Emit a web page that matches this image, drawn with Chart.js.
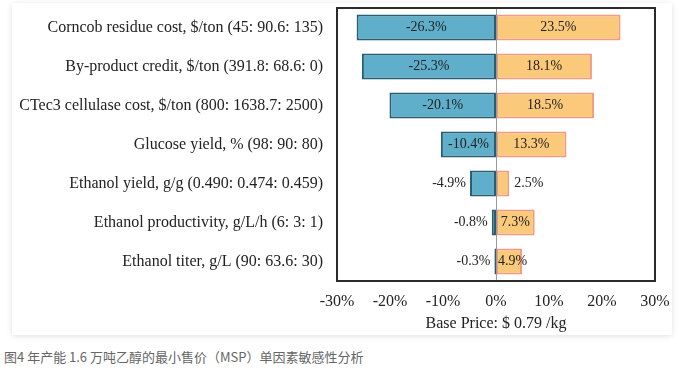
<!DOCTYPE html>
<html>
<head>
<meta charset="utf-8">
<script src="https://cdn.jsdelivr.net/npm/chart.js@4.4.1/dist/chart.umd.min.js"></script>
<style>
  html, body { margin: 0; padding: 0; background: #fff; }
  body { width: 679px; height: 375px; position: relative; overflow: hidden; }
  .card {
    position: absolute; left: 12px; top: 3px; width: 660px; height: 332px;
    background: #fff; box-shadow: 0 1px 6px rgba(0,0,0,.12);
  }
  .card canvas { display: block; }
  .caption {
    position: absolute; left: 4px; top: 347px;
    font: 13px "Noto Sans CJK SC", "Noto Sans", sans-serif; color: #666;
  }
</style>
</head>
<body>
<div class="card"><canvas id="chart" width="660" height="332"></canvas></div>
<div class="caption">图4 年产能 1.6 万吨乙醇的最小售价（MSP）单因素敏感性分析</div>
<script>
// ── Datos ─────────────────────────────────────────────
const factors = [
  'Corncob residue cost, $/ton (45: 90.6: 135)',
  'By-product credit, $/ton (391.8: 68.6: 0)',
  'CTec3 cellulase cost, $/ton (800: 1638.7: 2500)',
  'Glucose yield, % (98: 90: 80)',
  'Ethanol yield, g/g (0.490: 0.474: 0.459)',
  'Ethanol productivity, g/L/h (6: 3: 1)',
  'Ethanol titer, g/L (90: 63.6: 30)'
];
const lowCase  = [-26.3, -25.3, -20.1, -10.4, -4.9, -0.8, -0.3];
const highCase = [23.5, 18.1, 18.5, 13.3, 2.5, 7.3, 4.9];
const xTicks   = [-30, -20, -10, 0, 10, 20, 30];
const xTitle   = 'Base Price: $ 0.79 /kg';

const serif = '"Liberation Serif", "Times New Roman", serif';

// ── Marco, línea cero y etiquetas ─────────────────────
const tornadoDeco = {
  id: 'tornadoDeco',
  afterDatasetsDraw(chart) {
    const { ctx, chartArea: a, scales: { x } } = chart;
    ctx.save();
    // línea cero
    const x0 = Math.round(x.getPixelForValue(0)) + 0.5;
    ctx.strokeStyle = '#9a9a9a'; ctx.lineWidth = 1;
    ctx.beginPath(); ctx.moveTo(x0, a.top); ctx.lineTo(x0, a.bottom); ctx.stroke();
    // marco
    ctx.strokeStyle = '#2b2b2b'; ctx.lineWidth = 2;
    ctx.strokeRect(a.left, a.top, a.right - a.left, a.bottom - a.top);
    // etiquetas
    ctx.font = '14px ' + serif; ctx.fillStyle = '#222'; ctx.textBaseline = 'middle';
    chart.data.datasets.forEach((ds, di) => {
      chart.getDatasetMeta(di).data.forEach((bar, i) => {
        const v = ds.data[i];
        const txt = v.toFixed(1) + '%';
        const tw = ctx.measureText(txt).width;
        const w = Math.abs(bar.x - bar.base);
        if (v < 0) {
          if (w > tw + 6) { ctx.textAlign = 'center'; ctx.fillText(txt, (bar.x + bar.base) / 2, bar.y); }
          else { ctx.textAlign = 'right'; ctx.fillText(txt, bar.x - 4, bar.y); }
        } else {
          if (w >= 20) {
            const cx = Math.max((bar.x + bar.base) / 2, bar.base + 2 + tw / 2);
            ctx.textAlign = 'center'; ctx.fillText(txt, cx, bar.y);
          } else { ctx.textAlign = 'left'; ctx.fillText(txt, bar.x + 5, bar.y); }
        }
      });
    });
    ctx.restore();
  }
};

new Chart(document.getElementById('chart').getContext('2d'), {
  type: 'bar',
  data: {
    labels: factors,
    datasets: [
      { data: lowCase, backgroundColor: '#5fafcb', borderColor: '#275e75', borderWidth: 2, borderSkipped: false },
      { data: highCase, backgroundColor: '#fac97a', borderColor: '#f39a7e', borderWidth: 2, borderSkipped: false }
    ]
  },
  options: {
    indexAxis: 'y',
    responsive: false, animation: false,
    layout: { padding: { top: 5, right: 17, bottom: 0, left: 0 } },
    datasets: { bar: { categoryPercentage: 1, barPercentage: 0.67 } },
    plugins: { legend: { display: false }, tooltip: { enabled: false } },
    scales: {
      x: {
        stacked: true, min: -30, max: 30,
        afterBuildTicks: s => { s.ticks = xTicks.map(v => ({ value: v })); },
        grid: { display: false, drawTicks: false },
        border: { display: false },
        ticks: { padding: 11, color: '#222', font: { family: serif, size: 16 }, callback: v => v + '%' },
        title: { display: true, text: xTitle, color: '#222', font: { family: serif, size: 16 }, padding: { top: 0, bottom: 2 } },
        afterFit: s => { s.height = 54; s.paddingLeft = 0; s.paddingRight = 0; }
      },
      y: {
        stacked: true,
        grid: { display: false, drawTicks: false },
        border: { display: false },
        ticks: { padding: 14, color: '#222', font: { family: serif, size: 16 } },
        afterFit: s => { s.width = 325; s.paddingTop = 0; s.paddingBottom = 0; }
      }
    }
  },
  plugins: [tornadoDeco]
});
</script>
</body>
</html>
